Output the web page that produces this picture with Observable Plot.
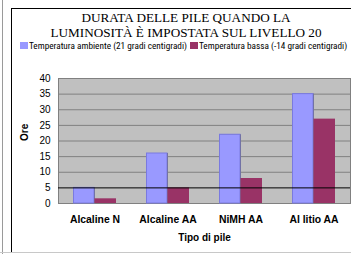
<!DOCTYPE html>
<html>
<head>
<meta charset="utf-8">
<script src="https://cdn.jsdelivr.net/npm/d3@7"></script>
<script src="https://cdn.jsdelivr.net/npm/@observablehq/plot@0.6"></script>
<style>
  html, body { margin: 0; padding: 0; background: #fff; }
  #wrap { position: relative; width: 351px; height: 254px; overflow: hidden; background: #fff; }
  #grayline { position: absolute; left: 2px; top: 0; width: 1px; height: 254px; background: #9a9a9a; }
  #bottomline { position: absolute; left: 0; top: 252px; width: 351px; height: 1px; background: #c8c8c8; }
  #box { position: absolute; left: 11px; top: 8px; width: 340px; height: 244px; border-left: 1px solid #000; border-top: 1px solid #000; box-sizing: border-box; }
  #title { position: absolute; left: 22px; top: 10px; width: 328px; text-align: center;
           font-family: "Liberation Serif", serif; font-weight: normal; font-size: 13.2px; line-height: 15px; color: #000; }
  #legend { position: absolute; left: 20px; top: 40px; white-space: nowrap;
            font-family: "Roboto Condensed", "Liberation Sans", sans-serif; font-size: 9.25px; line-height: 11px; color: #000; }
  #legend .sw { display: inline-block; width: 8px; height: 7px; margin-right: 1px; }
  #legend .item { display: inline-block; }
  #chart { position: absolute; left: 0; top: 60px; }
</style>
</head>
<body>
<div id="wrap">
  <div id="grayline"></div>
  <div id="box"></div>
  <div id="bottomline"></div>
  <div id="title"></div>
  <div id="legend"></div>
  <div id="chart"></div>
</div>
<script>
const titleLines = ["DURATA DELLE PILE QUANDO LA", "LUMINOSITÀ È IMPOSTATA SUL LIVELLO 20"];
const categories = ["Alcaline N", "Alcaline AA", "NiMH AA", "Al litio AA"];
const seriesNames = ["Temperatura ambiente (21 gradi centigradi)", "Temperatura bassa (-14 gradi centigradi)"];
const seriesColors = ["#9999ff", "#993366"];
const ambiente = [5, 16, 22, 35];
const bassa = [1.5, 5, 8, 27];
const yTicks = [0, 5, 10, 15, 20, 25, 30, 35, 40];
const yLabel = "Ore";
const xLabel = "Tipo di pile";

document.getElementById("title").innerHTML = titleLines.join("<br>");
document.getElementById("legend").innerHTML = seriesNames.map((n, i) =>
  `<span class="item" style="margin-right:${i === 0 ? 3 : 0}px"><span class="sw" style="background:${seriesColors[i]}"></span>${n}</span>`).join("");

const dataA = categories.map((c, i) => ({cat: c, value: ambiente[i]}));
const dataB = categories.map((c, i) => ({cat: c, value: bassa[i]}));

const plot = Plot.plot({
  width: 351,
  height: 194,
  marginTop: 18,
  marginLeft: 58,
  marginRight: 1,
  marginBottom: 51,
  style: {background: "transparent", fontFamily: "'Liberation Sans', Arial, sans-serif", fontSize: "10px", color: "#000"},
  x: {domain: categories, padding: 0, label: null, tickSize: 0, tickPadding: 12},
  y: {domain: [0, 40], ticks: yTicks, label: null, tickSize: 0, tickPadding: 8},
  marks: [
    Plot.frame({fill: "#c0c0c0", stroke: "#808080"}),
    Plot.ruleY(yTicks.filter(t => t !== 5 && t !== 0), {stroke: "#808080", strokeWidth: 1}),
    Plot.barY(dataA, {x: "cat", y: "value", fill: "#6a6a6a", insetLeft: 16, insetRight: 36}),
    Plot.barY(dataA, {x: "cat", y: "value", fill: seriesColors[0], stroke: "#7a7ae0", strokeWidth: 1, insetLeft: 15.5, insetRight: 37}),
    Plot.barY(dataB, {x: "cat", y: "value", fill: seriesColors[1], insetLeft: 36.5, insetRight: 15}),
    Plot.ruleY([5], {stroke: "#000", strokeWidth: 1}),
    Plot.axisX({tickSize: 0, tickPadding: 12, fontWeight: "bold", fontSize: 10.4, label: null}),
    Plot.axisY({ticks: yTicks, tickSize: 0, tickPadding: 8, label: null, fontSize: 10}),
    Plot.text([yLabel], {frameAnchor: "left", dx: -34, rotate: -90, text: d => d, fontWeight: "bold", fontSize: 10}),
    Plot.text([xLabel], {frameAnchor: "bottom", dy: 37, text: d => d, fontWeight: "bold", fontSize: 10})
  ]
});
document.getElementById("chart").appendChild(plot);
</script>
</body>
</html>
